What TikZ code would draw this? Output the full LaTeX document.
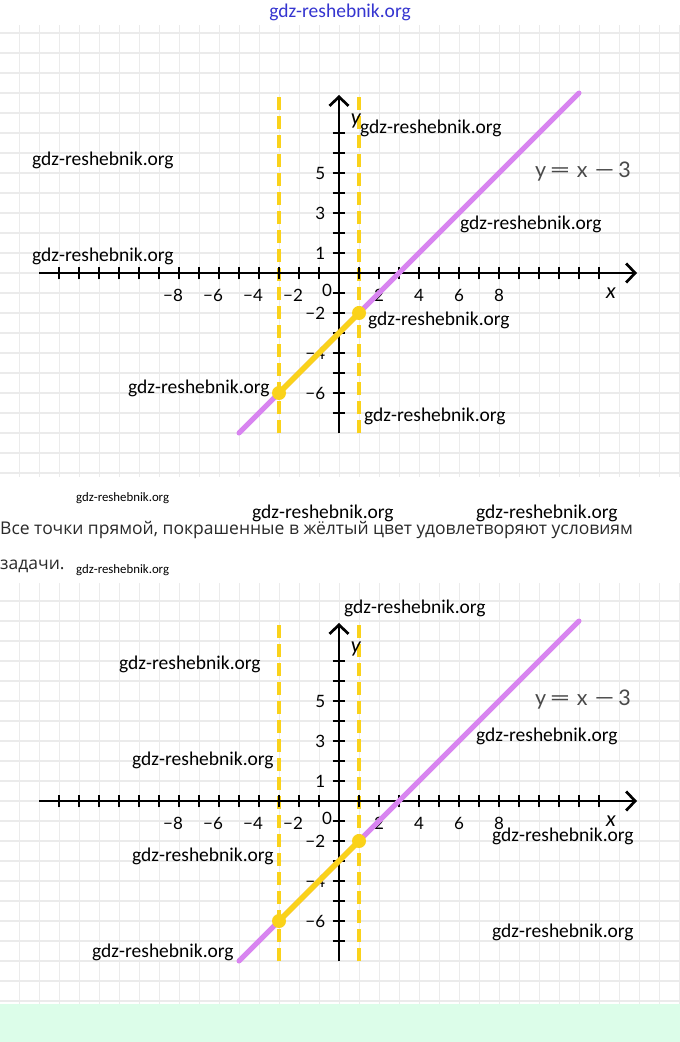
\documentclass[tikz,border=0pt]{standalone}
\usepackage{fontspec}
\usepackage{graphicx}
\setmainfont{Carlito}
\newfontfamily\lato{Lato}
\newfontfamily\osans{Open Sans}
\usetikzlibrary{arrows.meta}
\definecolor{gridc}{HTML}{EBEBEB}
\definecolor{purp}{HTML}{D884F0}
\definecolor{yel}{HTML}{FAD21A}
\definecolor{mint}{HTML}{DCFDE9}
\definecolor{wmblue}{HTML}{3535D0}
\definecolor{eqgray}{HTML}{4A4A4A}
\definecolor{txtc}{HTML}{2A2A2A}
\tikzset{
  gridline/.style={draw=gridc, line width=1.2pt},
  axisline/.style={line width=2.7pt, -{Straight Barb[length=9pt,width=19pt]}},
  tickmark/.style={line width=2.4pt},
  numlabel/.style={font=\lato\fontsize{17}{17}\selectfont, inner sep=0pt},
  axisname/.style={font=\lato\itshape\fontsize{21}{21}\selectfont, inner sep=0pt},
  eqlabel/.style={font=\lato\fontsize{21.5}{22}\selectfont, text=eqgray, inner sep=0pt},
  wm/.style={font=\fontsize{19.5}{20}\selectfont, text=black, inner sep=0pt, anchor=west},
  wmsmall/.style={font=\fontsize{12.8}{13}\selectfont, text=black, inner sep=0pt, anchor=west},
  ydash/.style={draw=yel, line width=3.8pt, dash pattern=on 13pt off 6pt},
  purpline/.style={draw=purp, line width=5pt, line cap=round},
  yelline/.style={draw=yel, line width=5.5pt, line cap=round},
  yeldot/.style={circle, fill=yel, minimum size=14pt, inner sep=0pt},
  bodytext/.style={font=\osans\fontsize{17.5}{18}\selectfont, text=txtc, inner sep=0pt, anchor=west},
}
\newcommand\drawgraph[2]{%
  \begin{scope}[shift={(339,#1)}, x=20pt, y=20pt]
    % yellow dashed verticals
    \coordinate (da#2) at (-3,-8);
    \coordinate (db#2) at (-3,8.9);
    \coordinate (dc#2) at (1,-8);
    \coordinate (dd#2) at (1,8.9);
    \draw[ydash] (da#2) -- (db#2);
    \draw[ydash] (dc#2) -- (dd#2);
    % axes
    \coordinate (xs#2) at (-15,0);
    \coordinate (xe#2) at (14.9,0);
    \coordinate (ys#2) at (0,-8);
    \coordinate (ye#2) at (0,8.9);
    \draw[axisline] (xs#2) -- (xe#2);
    \draw[axisline] (ys#2) -- (ye#2);
    \foreach \i in {-14,...,-1,1,2,...,13} \draw[tickmark] (\i,-0.32) -- (\i,0.32);
    \foreach \j in {-7,...,-1,1,2,...,7} \draw[tickmark] (-0.32,\j) -- (0.32,\j);
    % labels
    \foreach \v/\t in {-8/−8,-6/−6,-4/−4,-2/−2}
      \node[numlabel] (lx\v#2) at (\v-0.3,-1.1) {\t};
    \foreach \v in {2,4,6,8}
      \node[numlabel] (lx\v#2) at (\v,-1.1) {\v};
    \node[numlabel] (l0#2) at (-0.6,-0.85) {0};
    \foreach \v/\t in {5/5,3/3,1/1,-2/−2,-4/−4,-6/−6}
      \node[numlabel, anchor=east] (ly\v#2) at (-0.68,\v) {\t};
    \node[axisname] (xn#2) at (13.6,-1.0) {x};
    \node[axisname] (yn#2) at (0.85,7.6) {y};
    \node[eqlabel] (eq#2) at (12.2,5.05) {y\hspace{3pt}\scalebox{1.75}[1]{=}\hspace{6pt}x\hspace{6pt}\scalebox{1.75}[1]{−}\hspace{3pt}3};
    % the line y = x - 3
    \coordinate (p1#2) at (-5,-8);
    \coordinate (p2#2) at (12,9);
    \draw[purpline] (p1#2) -- (p2#2);
    \node[yeldot] (A#2) at (-3,-6) {};
    \node[yeldot] (B#2) at (1,-2) {};
    \draw[yelline] (A#2.center) -- (B#2.center);
  \end{scope}
}
\begin{document}
\begin{tikzpicture}[x=1pt, y=-1pt]
  \useasboundingbox (0,0) rectangle (680,1042);
  \fill[white] (0,0) rectangle (680,1042);
  % grids
  \foreach \k in {0,...,33} {
    \draw[gridline] (19.5+20*\k,25) -- (19.5+20*\k,477);
    \draw[gridline] (19.5+20*\k,583) -- (19.5+20*\k,1004);
  }
  \foreach \k in {-12,...,10} \draw[gridline] (0,273+20*\k) -- (680,273+20*\k);
  \foreach \k in {-10,...,10} \draw[gridline] (0,801+20*\k) -- (680,801+20*\k);
  \fill[mint] (0,1004) rectangle (680,1042);
  % top watermark
  \node[font=\fontsize{19.5}{20}\selectfont, text=wmblue, inner sep=0pt] (top) at (340,12) {gdz-reshebnik.org};
  % graphs
  \drawgraph{273}{a}
  \drawgraph{801}{b}
  % text
  \node[bodytext] (t1) at (0,530) {Все точки прямой, покрашенные в жёлтый цвет удовлетворяют условиям};
  \node[bodytext] (t2) at (0,566) {задачи.};
  % watermarks
  \node[wm] (w1) at (360,128) {gdz-reshebnik.org};
  \node[wm] (w2) at (32,160) {gdz-reshebnik.org};
  \node[wm] (w3) at (32,256) {gdz-reshebnik.org};
  \node[wm] (w4) at (460,224) {gdz-reshebnik.org};
  \node[wm] (w5) at (368,320) {gdz-reshebnik.org};
  \node[wm] (w6) at (128,388) {gdz-reshebnik.org};
  \node[wm] (w7) at (364,416) {gdz-reshebnik.org};
  \node[wmsmall] (w8) at (76,498) {gdz-reshebnik.org};
  \node[wm] (w9) at (252,513) {gdz-reshebnik.org};
  \node[wm] (w10) at (476,513) {gdz-reshebnik.org};
  \node[wmsmall] (w11) at (76,570) {gdz-reshebnik.org};
  \node[wm] (w12) at (344,608) {gdz-reshebnik.org};
  \node[wm] (w13) at (119,664) {gdz-reshebnik.org};
  \node[wm] (w14) at (132,760) {gdz-reshebnik.org};
  \node[wm] (w15) at (476,736) {gdz-reshebnik.org};
  \node[wm] (w16) at (492,836) {gdz-reshebnik.org};
  \node[wm] (w17) at (132,856) {gdz-reshebnik.org};
  \node[wm] (w18) at (492,932) {gdz-reshebnik.org};
  \node[wm] (w19) at (92,952) {gdz-reshebnik.org};
\end{tikzpicture}
\end{document}
